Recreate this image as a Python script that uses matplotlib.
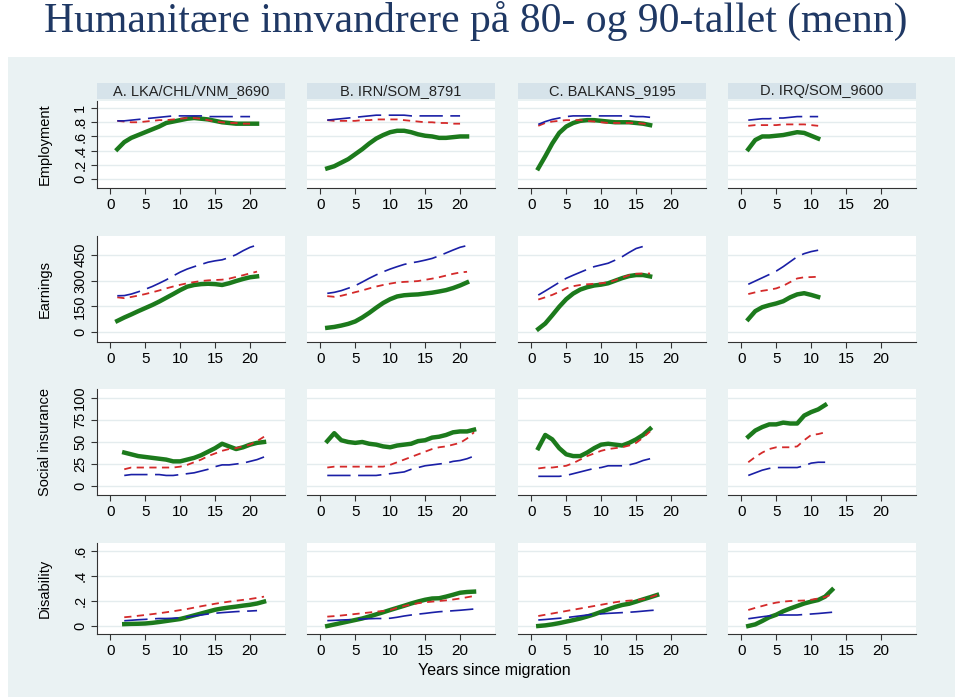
import matplotlib.pyplot as plt
from matplotlib.patches import Rectangle

plt.rcParams['font.family'] = ['Liberation Sans', 'DejaVu Sans']

title = 'Humanitære innvandrere på 80- og 90-tallet (menn)'
panels = ['A. LKA/CHL/VNM_8690', 'B. IRN/SOM_8791', 'C. BALKANS_9195', 'D. IRQ/SOM_9600']
outcomes = ['Employment', 'Earnings', 'Social insurance', 'Disability']
xticks = [0, 5, 10, 15, 20]

# first year of each series, per outcome and panel A-D
first_year = [[1, 1, 1, 1], [1, 1, 1, 1], [2, 1, 1, 1], [2, 1, 1, 1]]

# Employment
emp_green = [
    [.42, .52, .58, .62, .66, .70, .74, .79, .81, .83, .85, .86, .85, .84, .82, .80, .79, .78, .78, .78, .78],
    [.15, .18, .23, .28, .35, .42, .50, .57, .62, .66, .68, .68, .66, .63, .61, .60, .58, .58, .59, .60, .60],
    [.15, .32, .50, .65, .74, .79, .82, .83, .83, .82, .81, .80, .80, .80, .79, .78, .76],
    [.42, .55, .60, .60, .61, .62, .64, .66, .65, .61, .57]]
emp_red = [
    [.82, .81, .80, .80, .81, .82, .83, .83, .84, .85, .86, .86, .85, .83, .81, .80, .79, .79, .78, .78],
    [.83, .82, .82, .82, .82, .83, .83, .84, .84, .84, .84, .83, .82, .81, .80, .80, .79, .79, .78, .78],
    [.75, .79, .81, .82, .83, .83, .83, .82, .81, .80, .79, .79, .79, .79, .79, .78, .77],
    [.75, .76, .76, .76, .76, .77, .77, .77, .77, .76, .75]]
emp_blue = [
    [.82, .82, .83, .84, .85, .86, .87, .88, .89, .89, .89, .89, .89, .88, .88, .88, .88, .88, .88, .88],
    [.83, .84, .85, .86, .87, .88, .89, .90, .90, .90, .90, .90, .89, .89, .89, .89, .89, .89, .89, .89],
    [.77, .81, .84, .86, .88, .89, .89, .89, .89, .89, .89, .89, .89, .89, .88, .88, .87],
    [.83, .84, .85, .85, .86, .86, .87, .88, .88, .88, .88]]

# Earnings
earn_green = [
    [65, 85, 103, 122, 140, 158, 178, 200, 222, 245, 265, 275, 280, 282, 280, 275, 285, 298, 310, 320, 325],
    [25, 30, 38, 48, 62, 85, 112, 142, 170, 192, 208, 215, 218, 220, 225, 230, 237, 245, 257, 272, 290],
    [18, 50, 98, 148, 192, 225, 248, 262, 272, 277, 285, 300, 315, 327, 333, 333, 325],
    [75, 122, 145, 157, 167, 180, 203, 220, 227, 217, 205]]
earn_red = [
    [203, 198, 205, 213, 222, 232, 243, 255, 266, 276, 285, 292, 298, 302, 304, 306, 312, 322, 332, 343, 353],
    [210, 206, 212, 222, 233, 243, 255, 266, 275, 283, 290, 293, 295, 298, 305, 312, 320, 330, 340, 348, 352],
    [190, 203, 217, 235, 255, 268, 275, 279, 282, 285, 290, 302, 318, 332, 340, 342, 342],
    [222, 232, 241, 247, 255, 270, 292, 313, 320, 321, 323]]
earn_blue = [
    [212, 213, 222, 235, 250, 266, 285, 305, 328, 350, 368, 382, 395, 408, 416, 422, 435, 452, 475, 495, 508],
    [226, 232, 242, 256, 271, 292, 314, 334, 352, 368, 382, 395, 404, 411, 420, 430, 445, 462, 479, 495, 505],
    [216, 240, 265, 290, 314, 332, 349, 366, 382, 392, 402, 420, 440, 465, 488, 500, 503],
    [279, 298, 317, 336, 356, 382, 411, 440, 458, 470, 478]]

# Social insurance
soc_green = [
    [38, 36, 34, 33, 32, 31, 30, 28, 28, 30, 32, 35, 39, 43, 48, 45, 42, 44, 47, 49, 50],
    [51, 60, 52, 50, 49, 50, 48, 47, 45, 44, 46, 47, 48, 51, 52, 55, 56, 58, 61, 62, 62, 64],
    [43, 58, 53, 43, 36, 34, 34, 38, 43, 47, 48, 47, 46, 49, 53, 58, 65],
    [56, 63, 67, 70, 70, 72, 71, 71, 80, 84, 87, 92]]
soc_red = [
    [19, 21, 21, 21, 21, 21, 21, 21, 22, 24, 27, 30, 34, 37, 40, 42, 43, 45, 47, 51, 56],
    [21, 22, 22, 22, 22, 22, 22, 22, 22, 24, 27, 30, 33, 36, 39, 42, 44, 45, 47, 49, 54, 61],
    [20, 21, 21, 22, 23, 26, 30, 34, 37, 40, 42, 43, 44, 46, 49, 55, 62],
    [27, 33, 38, 42, 44, 44, 44, 45, 52, 58, 59, 61]]
soc_blue = [
    [12, 13, 13, 13, 13, 13, 12, 12, 13, 14, 15, 17, 19, 22, 24, 24, 25, 26, 28, 30, 33],
    [12, 12, 12, 12, 12, 12, 12, 12, 13, 14, 15, 16, 19, 21, 23, 24, 25, 26, 28, 29, 31, 34],
    [11, 11, 11, 11, 12, 14, 16, 18, 20, 21, 23, 23, 23, 24, 26, 29, 31],
    [12, 15, 18, 20, 21, 21, 21, 21, 23, 26, 27, 27]]

# Disability
dis_green = [
    [.015, .017, .018, .02, .025, .032, .04, .048, .056, .07, .085, .10, .115, .13, .14, .148, .155, .163, .17, .18, .195],
    [0, .012, .024, .036, .048, .06, .076, .093, .11, .128, .145, .162, .18, .196, .21, .22, .222, .235, .25, .266, .272, .275],
    [0, .005, .013, .023, .035, .047, .06, .076, .093, .113, .133, .152, .168, .178, .195, .213, .23, .248],
    [0, .013, .04, .07, .09, .118, .14, .16, .18, .195, .208, .235, .29]]
dis_red = [
    [.07, .075, .082, .088, .095, .102, .11, .118, .127, .136, .147, .158, .168, .178, .187, .195, .202, .209, .216, .225, .235],
    [.075, .079, .084, .09, .096, .102, .108, .115, .12, .128, .145, .16, .172, .182, .19, .195, .2, .205, .212, .22, .23, .24],
    [.08, .09, .1, .11, .12, .13, .14, .15, .16, .17, .18, .19, .198, .203, .207, .215, .23, .248],
    [.128, .145, .16, .175, .187, .195, .2, .202, .204, .21, .22, .232, .255]]
dis_blue = [
    [.042, .046, .05, .053, .057, .06, .06, .062, .066, .072, .08, .088, .096, .102, .107, .111, .115, .118, .12, .123],
    [.043, .045, .048, .05, .053, .056, .058, .06, .06, .062, .07, .08, .088, .095, .101, .108, .114, .118, .122, .126, .131, .136],
    [.048, .052, .057, .062, .067, .074, .081, .088, .093, .097, .101, .104, .107, .11, .114, .119, .124, .128],
    [.058, .066, .074, .081, .087, .088, .088, .088, .092, .096, .1, .105, .11]]

greens = [emp_green, earn_green, soc_green, dis_green]
reds = [emp_red, earn_red, soc_red, dis_red]
blues = [emp_blue, earn_blue, soc_blue, dis_blue]

yticks = [[0, .2, .4, .6, .8, 1], [0, 150, 300, 450], [0, 25, 50, 75, 100], [0, .2, .4, .6]]
ytlabels = [['0', '.2', '.4', '.6', '.8', '1'], ['0', '150', '300', '450'],
            ['0', '25', '50', '75', '100'], ['0', '.2', '.4', '.6']]
ylims = [(-0.127, 1.1), (-58, 561), (-10.2, 110.2), (-0.064, 0.664)]

W, H = 959, 699
bg = '#eaf2f3'
green, red, blue = '#1c7a1c', '#d42a2a', '#1a1fa6'

fig = plt.figure(figsize=(W / 100, H / 100), dpi=100)
fig.add_artist(Rectangle((8 / W, 2 / H), 947 / W, 640 / H, transform=fig.transFigure,
                         facecolor=bg, edgecolor='none', zorder=0))
fig.text(476 / W, 1 - 21 / H, title, ha='center', va='center', fontsize=30,
         family=['Liberation Serif', 'DejaVu Serif'], color='#1f3864')

col_left = [97, 307, 518, 728]
col_w = 188
row_px = [(101, 188), (236, 342), (389, 495), (543, 634)]

for r in range(4):
    top, bot = row_px[r]
    for c in range(4):
        ax = fig.add_axes([col_left[c] / W, 1 - bot / H, col_w / W, (bot - top) / H])
        ax.set_facecolor('white')
        x0 = first_year[r][c]
        g = greens[r][c]
        rd = reds[r][c]
        b = blues[r][c]
        ax.plot(range(x0, x0 + len(g)), g, color=green, lw=3.2, zorder=3)
        ax.plot(range(x0, x0 + len(rd)), rd, color=red, lw=1.3, ls=(0, (4, 3)), zorder=4)
        ax.plot(range(x0, x0 + len(b)), b, color=blue, lw=1.2, ls=(0, (14, 4.5)), zorder=4)
        ax.set_xlim(-1.9, 25)
        ax.set_ylim(*ylims[r])
        ax.set_xticks(xticks)
        ax.set_yticks(yticks[r])
        ax.grid(axis='y', color='#e4ecee', lw=1)
        ax.set_axisbelow(True)
        for s in ['top', 'right']:
            ax.spines[s].set_visible(False)
        ax.spines['bottom'].set_color('#333333')
        ax.spines['left'].set_color('#333333')
        ax.tick_params(axis='x', direction='out', length=4, color='#333333',
                       labelsize=11, pad=3)
        if c == 0:
            ax.set_yticklabels(ytlabels[r], rotation=90, va='center')
            ax.tick_params(axis='y', direction='out', length=4, color='#333333',
                           labelsize=10.5, pad=3)
        else:
            ax.spines['left'].set_visible(False)
            ax.tick_params(axis='y', length=0, labelleft=False)
        if r == 0:
            fig.add_artist(Rectangle((col_left[c] / W, 1 - 99 / H), col_w / W, 16 / H,
                                     transform=fig.transFigure, facecolor='#d6e3ea',
                                     edgecolor='none', zorder=1))
            fig.text((col_left[c] + col_w / 2) / W, 1 - 91 / H, panels[c], ha='center',
                     va='center', fontsize=10.5, color='#222222')
    fig.text(45 / W, 1 - (top + bot) / 2 / H, outcomes[r], rotation=90, ha='center',
             va='center', fontsize=10.5)

fig.text(494 / W, 1 - 670 / H, 'Years since migration', ha='center', va='center', fontsize=11.5)

fig.savefig('out.png', dpi=100)
